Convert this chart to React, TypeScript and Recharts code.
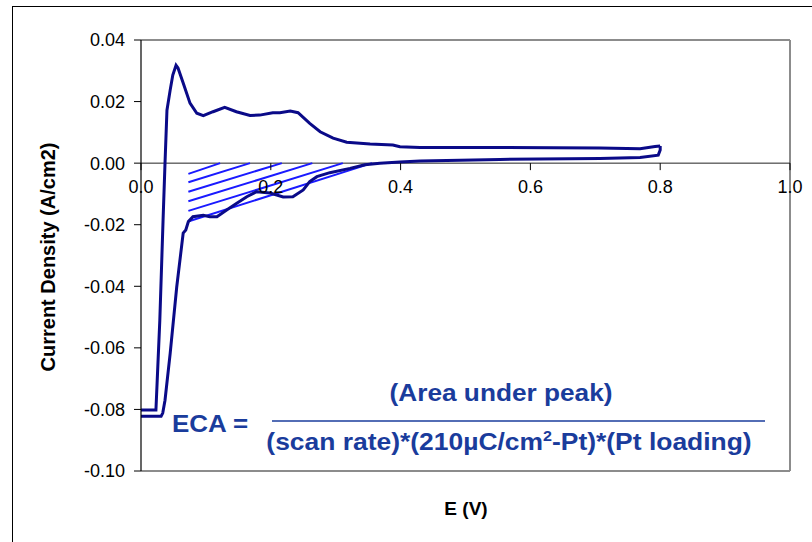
import React from 'react';
import { ComposedChart, Line, XAxis, YAxis, ReferenceLine, ReferenceDot, Customized } from 'recharts';

// Anodic (forward) sweep
const anodicE = [0.000, 0.023, 0.025, 0.029, 0.034, 0.037, 0.040, 0.045, 0.049, 0.054, 0.057, 0.065, 0.0755, 0.086, 0.096, 0.111, 0.129, 0.147, 0.168, 0.183, 0.203, 0.214, 0.230, 0.242, 0.260, 0.276, 0.296, 0.317, 0.353, 0.388, 0.399, 0.430, 0.553, 0.707, 0.769, 0.792, 0.800];
const anodicI = [-0.0802, -0.0802, -0.0705, -0.0510, -0.0185, 0.0000, 0.0172, 0.0238, 0.0286, 0.0318, 0.0309, 0.0260, 0.0195, 0.0162, 0.0154, 0.0167, 0.0181, 0.0167, 0.0155, 0.0156, 0.0164, 0.0164, 0.0169, 0.0164, 0.0129, 0.0102, 0.0081, 0.0068, 0.0062, 0.0059, 0.0053, 0.0051, 0.0051, 0.0049, 0.0047, 0.0054, 0.0056];

// Cathodic (reverse) sweep
const cathodicE = [0.800, 0.800, 0.797, 0.769, 0.707, 0.553, 0.430, 0.399, 0.368, 0.345, 0.322, 0.291, 0.271, 0.260, 0.250, 0.234, 0.219, 0.199, 0.178, 0.163, 0.147, 0.132, 0.117, 0.106, 0.096, 0.080, 0.073, 0.069, 0.065, 0.055, 0.045, 0.037, 0.0335, 0.031, 0.000];
const cathodicI = [0.0056, 0.0043, 0.0026, 0.0018, 0.0015, 0.0012, 0.0007, 0.0004, 0.0000, -0.0005, -0.0017, -0.0031, -0.0044, -0.0060, -0.0087, -0.0109, -0.0110, -0.0097, -0.0093, -0.0109, -0.0131, -0.0152, -0.0174, -0.0174, -0.0169, -0.0174, -0.0190, -0.0217, -0.0227, -0.0403, -0.0617, -0.0770, -0.0812, -0.0822, -0.0822];

// Hatching of the hydrogen desorption area
const hatchStartE = [0.073, 0.073, 0.073, 0.073, 0.073, 0.075];
const hatchStartI = [-0.0035, -0.0062, -0.0093, -0.0124, -0.0155, -0.0188];
const hatchEndE = [0.122, 0.168, 0.217, 0.264, 0.311, 0.356];
const hatchEndI = [0, 0, 0, 0, 0, 0];

const xTicks = [0, 0.2, 0.4, 0.6, 0.8, 1.0];
const xTickLabels = ['0.0', '0.2', '0.4', '0.6', '0.8', '1.0'];
const yTicks = [0.04, 0.02, 0, -0.02, -0.04, -0.06, -0.08, -0.1];
const yTickLabels = ['0.04', '0.02', '0.00', '-0.02', '-0.04', '-0.06', '-0.08', '-0.10'];

const anodicData = anodicE.map((E, i) => ({ E, I: anodicI[i] }));
const cathodicData = cathodicE.map((E, i) => ({ E, I: cathodicI[i] }));

const FONT = 'Liberation Sans, Arial, sans-serif';
const CURVE = '#0a0a88';
const HATCH = '#1a1aff';
const FORMULA = '#1a3c9c';

const Annotations = () => (
  <g fontFamily={FONT}>
    <text transform="translate(55,257) rotate(-90)" textAnchor="middle" fontWeight="bold" fontSize={20} fill="#000">
      Current Density (A/cm2)
    </text>
    <text x={466} y={515} textAnchor="middle" fontWeight="bold" fontSize={19} fill="#000">E (V)</text>
    <g fill={FORMULA} fontWeight="bold" fontSize={23}>
      <text transform="translate(172,432) scale(1.13,1)">ECA =</text>
      <text transform="translate(501,401) scale(1.14,1)" textAnchor="middle">(Area under peak)</text>
      <line x1={272} y1={421} x2={765} y2={421} stroke={FORMULA} strokeWidth={1.5} />
      <text transform="translate(509,450) scale(1.15,1)" textAnchor="middle">
        (scan rate)*(210µC/cm<tspan fontSize={14} dy={-9}>2</tspan><tspan dy={9}>-Pt)*(Pt loading)</tspan>
      </text>
    </g>
  </g>
);

export default function App() {
  return (
    <div style={{ position: 'fixed', left: 0, top: 0, width: 812, height: 542, overflow: 'hidden', background: '#fff' }}>
      <div style={{ position: 'absolute', left: 12, top: 6, width: 1000, height: 1000, border: '1px solid #000' }} />
      <div style={{ position: 'absolute', left: 0, top: 0 }}>
        <ComposedChart width={812} height={542} margin={{ top: 40, right: 22, bottom: 71, left: 0 }}>
          <XAxis dataKey="E" type="number" domain={[0, 1]} hide allowDataOverflow />
          <YAxis
            type="number"
            domain={[-0.1, 0.04]}
            ticks={yTicks}
            interval={0}
            width={141}
            tickSize={7}
            tickMargin={9}
            axisLine={{ stroke: '#000', strokeWidth: 1.2 }}
            tickLine={{ stroke: '#000' }}
            tick={{ fontSize: 18, fontFamily: FONT, fill: '#000' }}
            tickFormatter={(v: number) => yTickLabels[yTicks.findIndex((t) => Math.abs(t - v) < 1e-9)] ?? String(v)}
            allowDataOverflow
          />
          <ReferenceLine y={0.04} stroke="#8c8c8c" strokeWidth={2} ifOverflow="visible" />
          <ReferenceLine y={-0.1} stroke="#8c8c8c" strokeWidth={2} ifOverflow="visible" />
          <ReferenceLine x={1} stroke="#8c8c8c" strokeWidth={2} ifOverflow="visible" />
          <ReferenceLine y={0} stroke="#222" strokeWidth={1} />
          {xTicks.map((t, i) => (
            <ReferenceDot
              key={'xt' + i}
              x={t}
              y={0}
              r={0}
              ifOverflow="visible"
              shape={(p: any) => (
                <g>
                  <line x1={p.cx} y1={p.cy} x2={p.cx} y2={p.cy + 7} stroke="#000" strokeWidth={1} />
                  <text x={p.cx} y={p.cy + 30} textAnchor="middle" fontSize={18} fontFamily={FONT} fill="#000">
                    {xTickLabels[i]}
                  </text>
                </g>
              )}
            />
          ))}
          {hatchStartE.map((e, i) => (
            <ReferenceLine
              key={'h' + i}
              segment={[{ x: e, y: hatchStartI[i] }, { x: hatchEndE[i], y: hatchEndI[i] }]}
              stroke={HATCH}
              strokeWidth={2}
            />
          ))}
          <Line data={anodicData} dataKey="I" type="linear" stroke={CURVE} strokeWidth={3} dot={false} isAnimationActive={false} />
          <Line data={cathodicData} dataKey="I" type="linear" stroke={CURVE} strokeWidth={3} dot={false} isAnimationActive={false} />
          <Customized component={Annotations} />
        </ComposedChart>
      </div>
    </div>
  );
}
